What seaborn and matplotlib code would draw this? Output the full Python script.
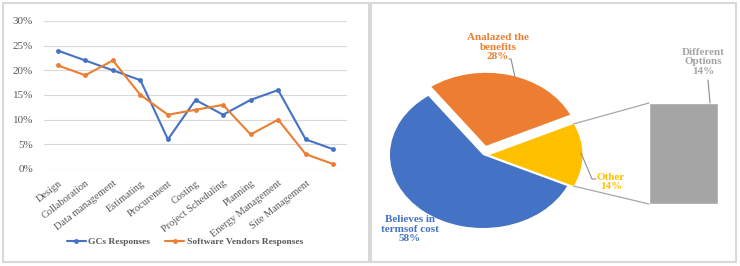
import numpy as np
import pandas as pd
import seaborn as sns
import matplotlib.pyplot as plt
from matplotlib.patches import Rectangle

# line chart data (shares of responses)
categories = ['Design', 'Collaboration', 'Data management', 'Estimating', 'Procurement',
              'Costing', 'Project Scheduling', 'Planning', 'Energy Management',
              'Site Management', '']
gcs = [0.24, 0.22, 0.20, 0.18, 0.06, 0.14, 0.11, 0.14, 0.16, 0.06, 0.04]
vendors = [0.21, 0.19, 0.22, 0.15, 0.11, 0.12, 0.13, 0.07, 0.10, 0.03, 0.01]
series_names = ['GCs Responses', 'Software Vendors Responses']

# pie-of-bar data
pie_labels = ['Other', 'Analazed the\nbenefits', 'Believes in\ntermsof cost']
pie_values = [14, 28, 58]
bar_label = 'Different\nOptions'
bar_values = [14]

BLUE, ORANGE, YELLOW, GRAY = '#4472C4', '#ED7D31', '#FFC000', '#A5A5A5'
TXT = '#595959'

sns.set_style('white')
plt.rcParams['font.family'] = ['Liberation Serif', 'DejaVu Serif']

W, H = 740, 266
fig = plt.figure(figsize=(W / 100, H / 100), dpi=100)


def px_rect(x0, y0, x1, y1):
    return [x0 / W, 1 - y1 / H, (x1 - x0) / W, (y1 - y0) / H]


# ---------- left: line chart ----------
df = pd.DataFrame({
    'x': list(range(len(categories))) * 2,
    'value': gcs + vendors,
    'series': [series_names[0]] * len(gcs) + [series_names[1]] * len(vendors),
})
ax = fig.add_axes(px_rect(44, 21, 347, 169))
sns.lineplot(data=df, x='x', y='value', hue='series', style='series',
             markers=['o', 'o'], dashes=False, markersize=3.5, markeredgewidth=0,
             palette=[BLUE, ORANGE], linewidth=1.5, ax=ax)
ax.set_xlim(-0.5, len(categories) - 0.5)
ax.set_ylim(0, 0.30)
ax.set_yticks(np.arange(0, 0.31, 0.05))
ax.set_yticklabels([f'{int(round(v * 100))}%' for v in np.arange(0, 0.31, 0.05)],
                   fontsize=8, color=TXT)
ax.set_xticks(range(len(categories)))
ax.set_xticklabels(categories, rotation=38, ha='right', rotation_mode='anchor',
                   fontsize=7.5, color=TXT)
ax.tick_params(axis='x', length=0, pad=7)
ax.tick_params(axis='y', length=0, pad=8)
ax.yaxis.grid(True, color='#d9d9d9', linewidth=0.8)
ax.set_axisbelow(True)
for s in ax.spines.values():
    s.set_visible(False)
ax.set_xlabel('')
ax.set_ylabel('')
leg = ax.legend(loc='center', bbox_to_anchor=(185 / W, 1 - 242 / H),
                bbox_transform=fig.transFigure, ncol=2, frameon=False,
                prop={'weight': 'bold', 'size': 6.8}, handlelength=2.0,
                columnspacing=1.6, handletextpad=0.3)
for t in leg.get_texts():
    t.set_color(TXT)

# ---------- right: pie of bar ----------
cx, cy, rx, ry, k = 483, 155, 93, 73, 1.5
pax = fig.add_axes(px_rect(cx - rx * k, cy - ry * k, cx + rx * k, cy + ry * k))
start = -pie_values[0] / sum(pie_values) * 180
wedges, _ = pax.pie(pie_values, colors=[YELLOW, ORANGE, BLUE], startangle=start,
                    counterclock=True, explode=[0.07, 0.13, 0.0],
                    wedgeprops={'linewidth': 0})
pax.set_aspect('auto')
pax.set_xlim(-k, k)
pax.set_ylim(-k, k)
pax.axis('off')

# bar for the broken-out slice
bax = fig.add_axes(px_rect(649, 103, 718, 204))
sns.barplot(x=[0], y=bar_values, color=GRAY, width=1.0, ax=bax, saturation=1)
bax.set_xlim(-0.5, 0.5)
bax.set_ylim(0, sum(bar_values))
bax.axis('off')

# overlay in pixel coordinates
ov = fig.add_axes([0, 0, 1, 1])
ov.set_xlim(0, W)
ov.set_ylim(H, 0)
ov.axis('off')
ov.patch.set_alpha(0)

# panel frames
for x0, x1 in [(3, 369), (371, 736)]:
    ov.add_patch(Rectangle((x0, 3), x1 - x0, 259, fill=False,
                           edgecolor='#d9d9d9', linewidth=1.5))


def to_px(wedge, ang):
    cxw, cyw = wedge.center
    p = (cxw + wedge.r * np.cos(np.radians(ang)), cyw + wedge.r * np.sin(np.radians(ang)))
    d = pax.transData.transform(p)
    return ov.transData.inverted().transform(d)


yw = wedges[0]
top = to_px(yw, yw.theta2)
bot = to_px(yw, yw.theta1)
ov.plot([top[0], 649], [top[1], 103], color='#a6a6a6', lw=0.9)
ov.plot([bot[0], 649], [bot[1], 204], color='#a6a6a6', lw=0.9)

lab_kw = dict(fontsize=8, fontweight='bold', ha='center', va='center', linespacing=1.1)
ov.text(498, 47, f'{pie_labels[1]}\n{pie_values[1]}%', color=ORANGE, **lab_kw)
ov.plot([509, 511, 515], [59, 59, 77], color='#8c8c8c', lw=0.8)
ov.text(611, 182, f'{pie_labels[0]}\n{pie_values[0]}%', color=YELLOW, **lab_kw)
ov.plot([581, 592, 596], [153, 179, 179], color='#8c8c8c', lw=0.8)
ov.text(410, 229, f'{pie_labels[2]}\n{pie_values[2]}%', color=BLUE, **lab_kw)
ov.text(703, 62, f'{bar_label}\n{bar_values[0]}%', color=GRAY, **lab_kw)
ov.plot([708, 710], [80, 103], color='#8c8c8c', lw=0.8)

fig.savefig('out.png', dpi=100)
